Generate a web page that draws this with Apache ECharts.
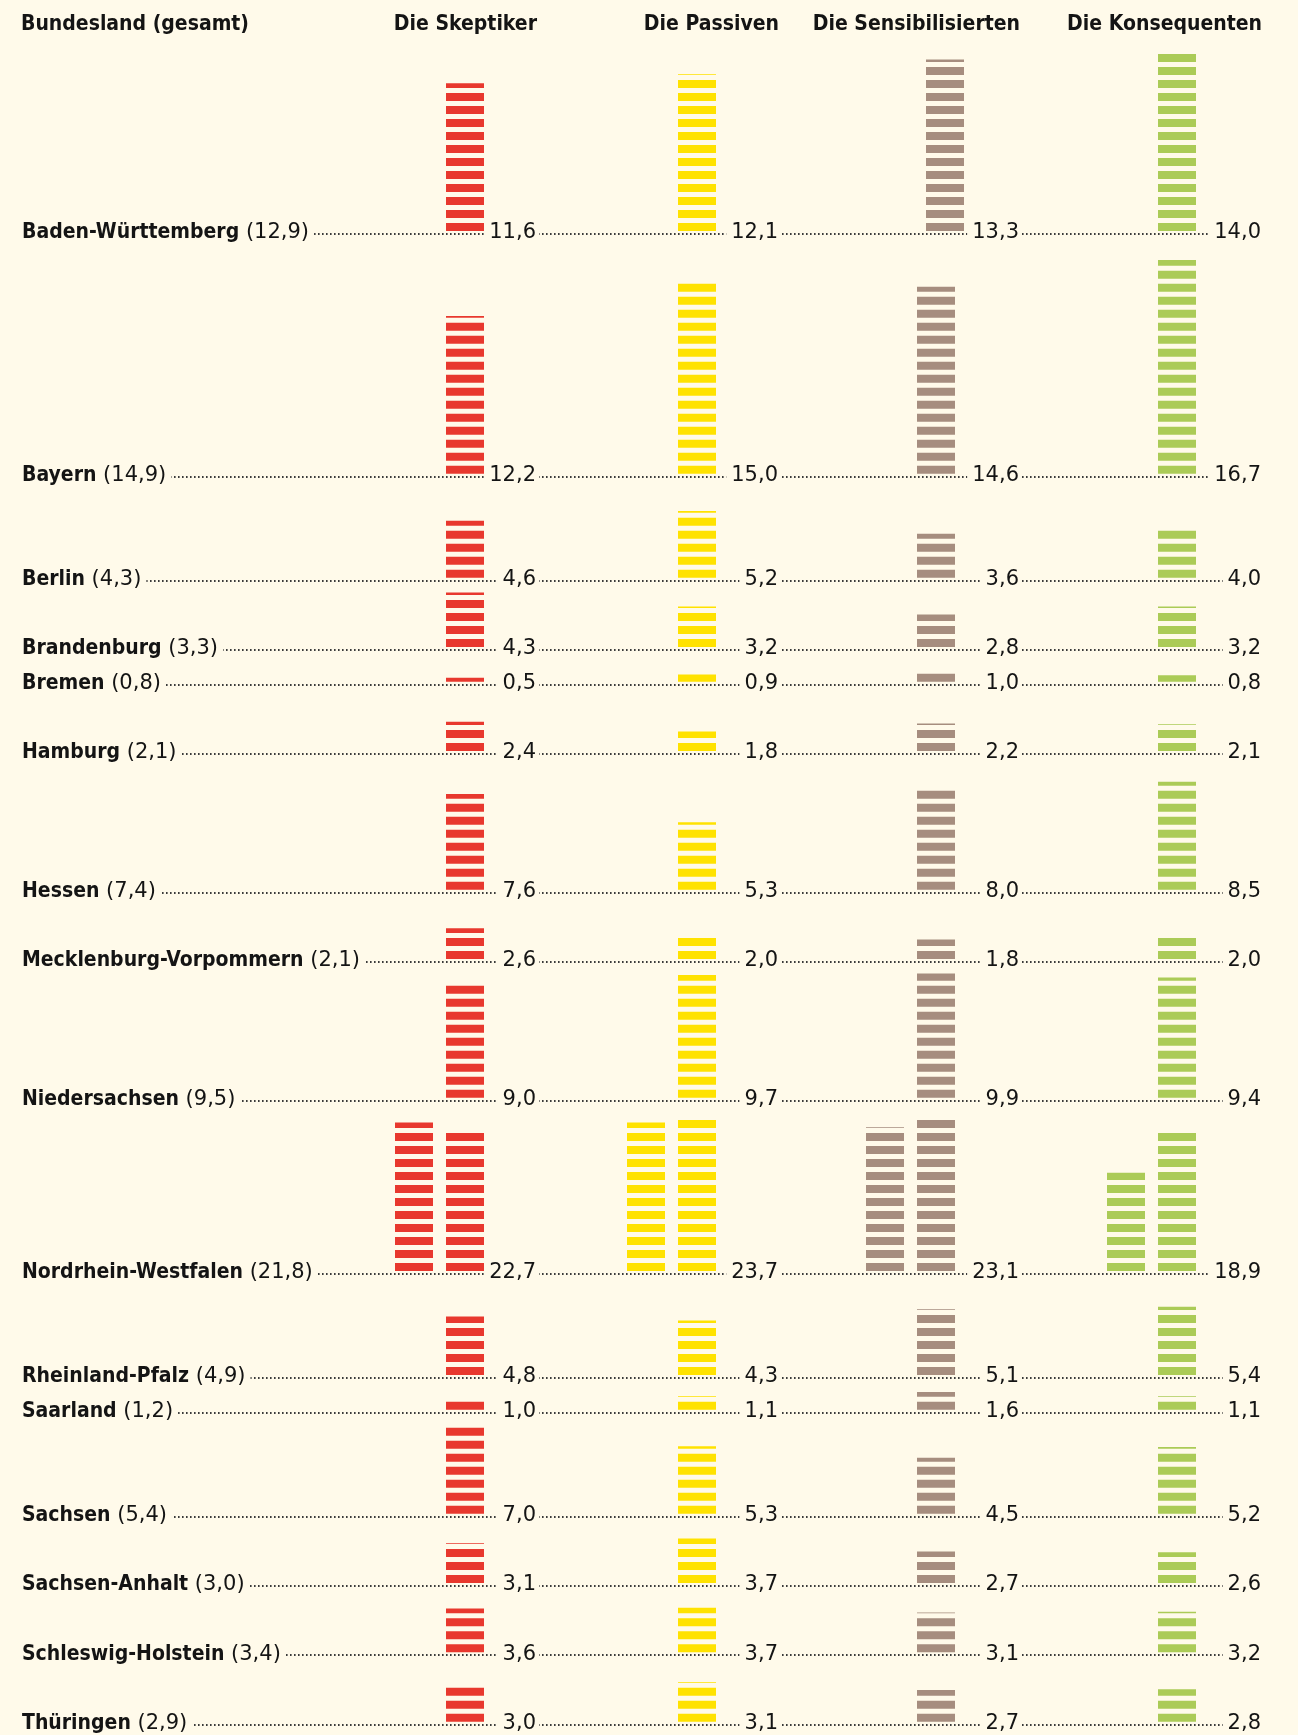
<!DOCTYPE html>
<html>
<head>
<meta charset="utf-8">
<title>Bundesländer</title>
<script src="https://cdn.jsdelivr.net/npm/echarts@6/dist/echarts.min.js"></script>
<style>
html, body { margin: 0; padding: 0; background: #fffaea; }
#chart { width: 1298px; height: 1735px; }
</style>
</head>
<body>
<div id="chart"></div>
<script>
// Daten (Anteile in %)
var states = ['Baden-Württemberg', 'Bayern', 'Berlin', 'Brandenburg', 'Bremen', 'Hamburg', 'Hessen',
	'Mecklenburg-Vorpommern', 'Niedersachsen', 'Nordrhein-Westfalen', 'Rheinland-Pfalz', 'Saarland',
	'Sachsen', 'Sachsen-Anhalt', 'Schleswig-Holstein', 'Thüringen'];
var gesamt = [12.9, 14.9, 4.3, 3.3, 0.8, 2.1, 7.4, 2.1, 9.5, 21.8, 4.9, 1.2, 5.4, 3.0, 3.4, 2.9];
var segments = ['Die Skeptiker', 'Die Passiven', 'Die Sensibilisierten', 'Die Konsequenten'];
var skeptiker = [11.6, 12.2, 4.6, 4.3, 0.5, 2.4, 7.6, 2.6, 9.0, 22.7, 4.8, 1.0, 7.0, 3.1, 3.6, 3.0];
var passiven = [12.1, 15.0, 5.2, 3.2, 0.9, 1.8, 5.3, 2.0, 9.7, 23.7, 4.3, 1.1, 5.3, 3.7, 3.7, 3.1];
var sensibilisierten = [13.3, 14.6, 3.6, 2.8, 1.0, 2.2, 8.0, 1.8, 9.9, 23.1, 5.1, 1.6, 4.5, 2.7, 3.1, 2.7];
var konsequenten = [14.0, 16.7, 4.0, 3.2, 0.8, 2.1, 8.5, 2.0, 9.4, 18.9, 5.4, 1.1, 5.2, 2.6, 3.2, 2.8];
// NRW bricht in eine zweite Säule um: Teil in der linken Säule
var nrwIndex = 9;
var nrwOverflow = [11.7, 11.7, 11.1, 7.9];

var values = [skeptiker, passiven, sensibilisierten, konsequenten];
var colors = ['#e8382e', '#ffe200', '#a68d7f', '#abcb57'];

// Layout
var BG = '#fffaea', INK = '#141414';
var REG = '"DejaVu Sans", sans-serif';
var BOLD = '"DejaVu Sans Condensed", "DejaVu Sans", sans-serif';
var PX = 13;               // Pixel pro Prozentpunkt
var LINE = 34.667 / PX;    // Zeilenraster
var HEAD = 26 / PX;        // Grundlinie Kopfzeile
var PAD = 0.45;
var LIFT = 3 / PX;
var STRIPE = 8 / PX;
var TEXT_DY = -1.2;
var barLeft = [446, 678, 917, 1158];
var barW = 38, colGap = 51;
var colRight = [536, 778, 1019, 1261];
var labelX = 22;
var nudge = { '0-2': 9 };

function fmt(v) {
	return v.toFixed(1).replace('.', ',');
}

// Säulen je Zelle (NRW: rechte und linke Säule)
function columns(seg, i) {
	var v = values[seg][i];
	if (i === nrwIndex) {
		return [Math.round((v - nrwOverflow[seg]) * 10) / 10, nrwOverflow[seg]];
	}
	return [v];
}

// Zeilenhöhe aus der höchsten Säule, gerastert
var rowBase = [];
var cum = 0;
for (var i = 0; i < states.length; i++) {
	var tallest = 0;
	for (var s = 0; s < 4; s++) {
		columns(s, i).forEach(function (v) { tallest = Math.max(tallest, v); });
	}
	cum += Math.ceil((tallest + PAD) / LINE);
	rowBase.push(HEAD + cum * LINE);
}

function renderHeader(params, api) {
	var j = params.dataIndex;
	var x = j === 0 ? labelX - 1 : colRight[j - 1] + 1;
	var p = api.coord([x, HEAD]);
	return {
		type: 'text',
		style: {
			x: p[0], y: p[1] + TEXT_DY,
			text: j === 0 ? 'Bundesland (gesamt)' : segments[j - 1],
			fontFamily: BOLD, fontWeight: 'bold', fontSize: 21, fill: INK,
			align: j === 0 ? 'left' : 'right', verticalAlign: 'middle'
		}
	};
}

function renderRow(params, api) {
	var i = params.dataIndex;
	var a = api.coord([labelX, rowBase[i]]);
	var b = api.coord([colRight[3], rowBase[i]]);
	var ly = Math.round(a[1]);
	var kids = [{
		type: 'line',
		shape: { x1: Math.round(a[0]), y1: ly, x2: b[0], y2: ly },
		style: { stroke: '#3a3a3a', lineWidth: 2, lineDash: [1.6, 2.4], fill: null }
	}, {
		type: 'text',
		style: {
			x: a[0], y: a[1] + TEXT_DY,
			text: '{b|' + states[i] + '} (' + fmt(gesamt[i]) + ')',
			rich: { b: { fontFamily: BOLD, fontWeight: 'bold', fontSize: 21, fill: INK } },
			fontFamily: REG, fontSize: 21, fill: INK,
			align: 'left', verticalAlign: 'middle',
			backgroundColor: BG, padding: [0, 5, 0, 0]
		}
	}];
	for (var s = 0; s < 4; s++) {
		var p = api.coord([colRight[s] + 3, rowBase[i]]);
		kids.push({
			type: 'text',
			style: {
				x: p[0], y: p[1] + TEXT_DY,
				text: fmt(values[s][i]),
				fontFamily: REG, fontSize: 21, fill: INK,
				align: 'right', verticalAlign: 'middle',
				backgroundColor: BG, padding: [0, 3, 0, 5]
			}
		});
	}
	return { type: 'group', children: kids };
}

function barRenderer(seg) {
	return function (params, api) {
		var i = params.dataIndex;
		var base = rowBase[i] - LIFT;
		var kids = [];
		columns(seg, i).forEach(function (v, c) {
			var x = barLeft[seg] - c * colGap + (nudge[i + '-' + seg] || 0);
			for (var k = 0; k < Math.ceil(v - 1e-9); k++) {
				var h = Math.min(1, v - k) * STRIPE;
				var tl = api.coord([x, base - k - h]);
				var br = api.coord([x + barW, base - k]);
				kids.push({
					type: 'rect',
					shape: { x: tl[0], y: tl[1], width: br[0] - tl[0], height: br[1] - tl[1] },
					style: { fill: colors[seg] }
				});
			}
		});
		return { type: 'group', children: kids };
	};
}

var myChart = echarts.init(document.getElementById('chart'));
var series = [{
	type: 'custom',
	name: 'kopf',
	renderItem: renderHeader,
	data: [0, 1, 2, 3, 4].map(function (j) { return [0, HEAD]; }),
	silent: true
}, {
	type: 'custom',
	name: 'zeilen',
	renderItem: renderRow,
	data: states.map(function (s, i) { return [labelX, rowBase[i]]; }),
	silent: true
}];
segments.forEach(function (name, seg) {
	series.push({
		type: 'custom',
		name: name,
		renderItem: barRenderer(seg),
		data: values[seg].map(function (v, i) { return [barLeft[seg], rowBase[i] - v]; }),
		silent: true
	});
});

var option = {
	backgroundColor: BG,
	animation: false,
	grid: { left: 0, right: 0, top: 0, bottom: 0 },
	xAxis: { type: 'value', min: 0, max: 1298, show: false },
	yAxis: { type: 'value', min: 0, max: 1735 / PX, inverse: true, show: false },
	series: series
};
myChart.setOption(option);
</script>
</body>
</html>
